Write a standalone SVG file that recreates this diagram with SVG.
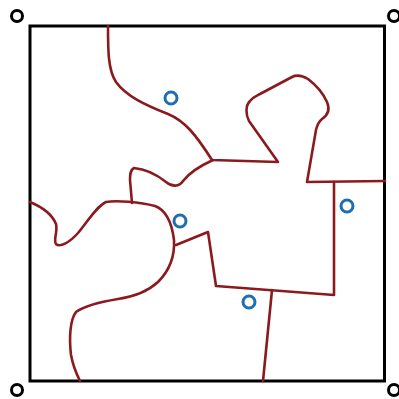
<svg xmlns="http://www.w3.org/2000/svg" width="399" height="399" viewBox="0 0 399 399">
<style>
.frame{fill:none;stroke:#000;stroke-width:3}
.corner{fill:none;stroke:#000;stroke-width:3}
.site{fill:none;stroke:#1f6fb0;stroke-width:3}
.edge{fill:none;stroke:#8b1a1f;stroke-width:2.6;stroke-linejoin:round;stroke-linecap:round}
</style>
<rect width="399" height="399" fill="#fff"/>
<g id="frame">
<rect class="frame" x="30" y="26" width="354.5" height="355"/>
</g>
<g id="corners">
<circle class="corner" cx="17" cy="16" r="5.5"/>
<circle class="corner" cx="394" cy="16" r="5.5"/>
<circle class="corner" cx="17" cy="390" r="5.5"/>
<circle class="corner" cx="394" cy="390" r="5.5"/>
</g>
<g id="connectors">
<path class="edge" d="M108,26 C108,50 108,70 116,82 C126,96 145,105 168,114 C185,121 196,135 212,160 L278,162 L249,121 C246,115 245,106 250,101 C253,97 256,96 260,94 L292,77 C298,74 303,76 308,79 C316,85 323,93 327,102 C330,109 328,115 322,119 C318,122 317,126 316,130 L307,182 L385,181"/>
<path class="edge" d="M334,182 L334,295 L216,286 L208,232 L176,245"/>
<path class="edge" d="M272,290 L263,381"/>
<path class="edge" d="M213,160 C202,165 190,172 183,181 C179,187 172,187 166,182 C156,174 145,169 134,168 C130,170 130,175 130,180 L132,203"/>
<path class="edge" d="M30,202 C42,207 52,214 56,224 C58,232 53,240 56,244 C60,248 70,242 78,233 C88,221 96,207 106,202 C116,200 140,202 155,206 C166,210 172,224 174,240 C175,258 168,272 158,282 C146,293 132,297 118,299 C100,302 84,306 76,312 C70,320 69,338 71,355 C73,366 76,373 80,381"/>
</g>
<g id="sites">
<circle class="site" cx="171" cy="98" r="6"/>
<circle class="site" cx="180" cy="221" r="6"/>
<circle class="site" cx="347" cy="206" r="6"/>
<circle class="site" cx="249" cy="302" r="6"/>
</g>
</svg>
